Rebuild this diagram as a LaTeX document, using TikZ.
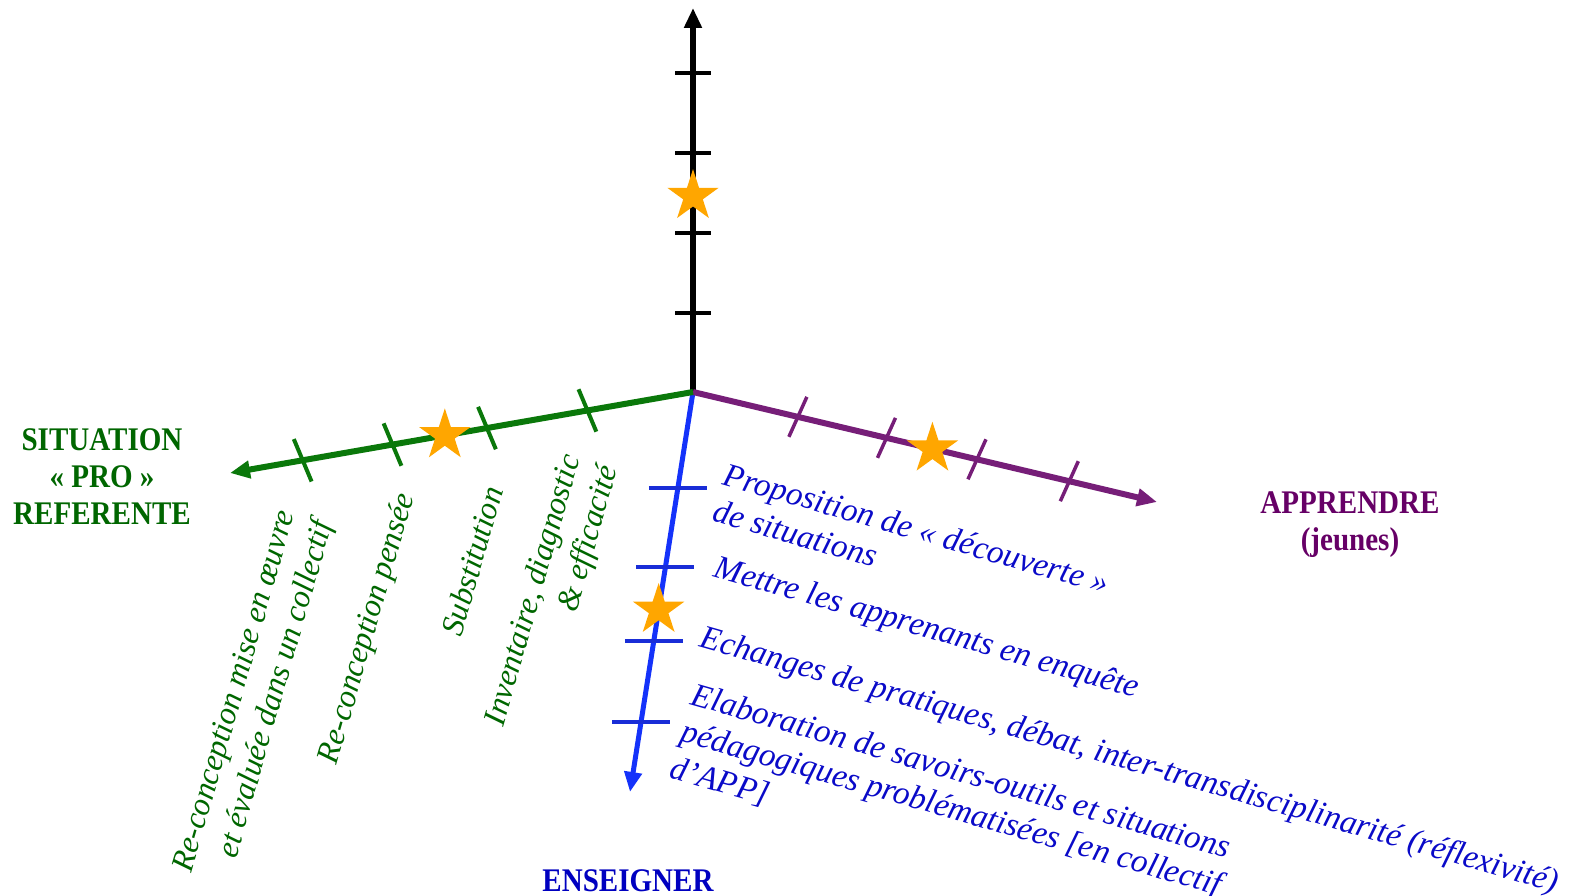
\documentclass[tikz,border=0pt]{standalone}
\usepackage{fontspec}
\setmainfont{Liberation Serif}
\newfontfamily\condbold[FakeStretch=0.88]{Liberation Serif}
\usetikzlibrary{arrows.meta,shapes.geometric,calc}
\definecolor{axgreen}{RGB}{10,120,10}
\definecolor{txtgreen}{RGB}{0,102,0}
\definecolor{axpurple}{RGB}{118,30,120}
\definecolor{txtpurple}{RGB}{102,0,102}
\definecolor{axblue}{RGB}{20,50,250}
\definecolor{tkblue}{RGB}{25,45,215}
\definecolor{txtblue}{RGB}{10,10,200}
\definecolor{enscol}{RGB}{0,0,192}
\definecolor{starorange}{RGB}{255,166,0}
\begin{document}
\begin{tikzpicture}[x=1pt,y=-1pt,
  axisline/.style={line width=6pt,-{Triangle[length=20pt,width=17pt]}},
  tickmark/.style={line width=4pt},
  starmark/.style={star,star points=5,star point ratio=2.618,fill=starorange,draw=none,minimum size=54pt,inner sep=0pt},
  biglab/.style={font=\condbold\bfseries\fontsize{33}{37}\selectfont,align=center,inner sep=0pt},
  greenlab/.style={font=\itshape\fontsize{32}{39}\selectfont,text=txtgreen,rotate=74,inner sep=0pt,anchor=center},
  bluelab/.style={font=\itshape\fontsize{33.2}{38}\selectfont,text=txtblue,rotate=-16,inner sep=0pt,anchor=north west,align=left}
]
\useasboundingbox (0,0) rectangle (1569,896);
\coordinate (O) at (693,392);
\coordinate (T) at (693,8);
\coordinate (G) at (230,473);
\coordinate (P) at (1157,502);
\coordinate (B) at (630,792);

% axes
\draw[axisline,black] (O) -- (T);
\draw[axisline,axblue,line width=5pt] (O) -- (B);
\draw[axisline,axpurple] (O) -- (P);
\draw[axisline,axgreen] (O) -- (G);

% ticks
\foreach \f in {0.206,0.414,0.622,0.831}
  \draw[tickmark,black] ($(O)!\f!(T)$) ++(-18,0) -- ++(36,0);
\foreach \f in {0.228,0.445,0.649,0.843}
  \draw[tickmark,axgreen] ($(O)!\f!(G)$) ++(-8.9,-21.2) -- ++(17.8,42.4);
\foreach \f in {0.226,0.417,0.612,0.811}
  \draw[tickmark,axpurple,line width=3.5pt] ($(O)!\f!(P)$) ++(9,-20) -- ++(-18,40);
\foreach \f in {0.24,0.4375,0.6225,0.825}
  \draw[tickmark,tkblue] ($(O)!\f!(B)$) ++(-29,0) -- ++(58,0);

% stars
\node[starmark] (sk) at ($(O)!0.51!(T)$) {};
\node[starmark] (sg) at ($(O)!0.536!(G)$) {};
\node[starmark] (sp) at ($(O)!0.516!(P)$) {};
\node[starmark] (sb) at ($(O)!0.545!(B)$) {};

% axis titles
\node[biglab,text=txtgreen] (sit) at (102,477) {SITUATION\\«~PRO~»\\REFERENTE};
\node[biglab,text=txtpurple] (app) at (1350,525) {APPRENDRE\\(jeunes)};
\node[biglab,text=enscol,anchor=base] (ens) at (628,891) {ENSEIGNER};

% green labels
\node[greenlab,align=right] (g1) at (255,697) {Re-conception mise en œuvre\\et évaluée dans un collectif};
\node[greenlab] (g2) at (368,629) {Re-conception pensée};
\node[greenlab] (g3) at (472,561) {Substitution};
\node[greenlab,align=right] (g4) at (553,596) {Inventaire, diagnostic\\\& efficacité};

% blue labels
\node[bluelab] (b1) at (728,462) {Proposition de «~découverte~»\\de situations};
\node[bluelab] (b2) at (719,554) {Mettre les apprenants en enquête};
\node[bluelab] (b3) at (705,624) {Echanges de pratiques, débat, inter-transdisciplinarité (réflexivité)};
\node[bluelab] (b4) at (696,682) {Elaboration de savoirs-outils et situations\\pédagogiques problématisées [en collectif\\d’APP]};
\end{tikzpicture}
\end{document}
